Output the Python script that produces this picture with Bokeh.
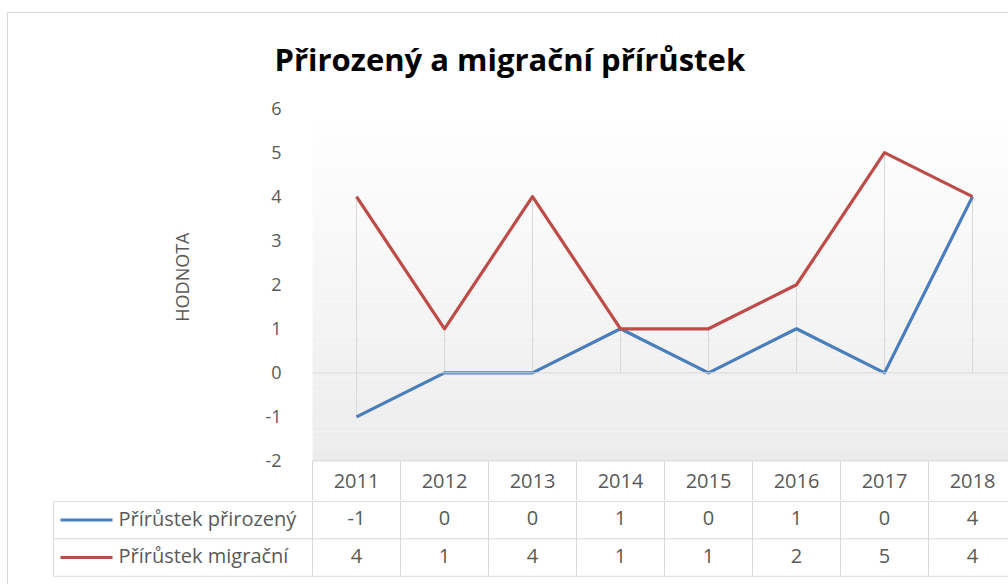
import numpy as np
from bokeh.plotting import figure
from bokeh.layouts import column
from bokeh.models import Range1d, FixedTicker, Span, Title, InlineStyleSheet
from bokeh.core.properties import value
from bokeh.embed import file_html
from bokeh.resources import INLINE

# ---- data ----
years = ["2011", "2012", "2013", "2014", "2015", "2016", "2017", "2018"]
prirozeny = [-1, 0, 0, 1, 0, 1, 0, 4]
migracni = [4, 1, 4, 1, 1, 2, 5, 4]
series_names = ["Přírůstek přirozený", "Přírůstek migrační"]
y_ticks = [-2, -1, 0, 1, 2, 3, 4, 5, 6]
title_text = "Přirozený a migrační přírůstek"
y_title = "HODNOTA"

# ---- style ----
BLUE = "#4a7ebb"
RED = "#be4b48"
GRID = "#d9d9d9"
TXT = "#595959"
FONT = "Open Sans"
PX = 88.0      # pixels per category
PY = 44.06     # pixels per value unit

idx = list(range(len(years)))
y_min, y_max = min(y_ticks), max(y_ticks)
x_lo, x_hi = idx[0] - 0.5, idx[-1] + 0.5
frame1_h = 392
hdr_bottom = y_max - frame1_h / PY
series = [prirozeny, migracni]
colors = [BLUE, RED]

p = figure(width=1008, height=500,
           x_range=Range1d(x_lo - 1 / PX, x_lo - 1 / PX + 697 / PX),
           y_range=Range1d(hdr_bottom, y_max),
           x_axis_location=None, output_backend="svg", toolbar_location=None,
           min_border_left=311, min_border_right=0, min_border_top=108,
           min_border_bottom=0, outline_line_color=None, frame_align=False,
           background_fill_color="white", border_fill_color="white")
p.xgrid.visible = False
p.ygrid.visible = False

p.title.text = title_text
p.title.text_font = FONT
p.title.text_font_size = "31px"
p.title.text_font_style = "bold"
p.title.text_color = "black"
p.title.align = "left"
p.title.offset = -37
p.title.standoff = 58

# gradient background of plot area
n = 60
edges = np.linspace(y_min, y_max, n + 1)
frac = np.linspace(1, 0, n)
shades = [int(round(255 - 19 * f)) for f in frac]
band_colors = ["#%02x%02x%02x" % (s, s, s) for s in shades]
p.quad(left=x_lo, right=x_hi, bottom=edges[:-1], top=edges[1:],
       fill_color=band_colors, line_color=None)

p.add_layout(Span(location=0, dimension="width", line_color=GRID, line_width=1))

for s in series:
    p.segment(x0=idx, y0=[0] * len(idx), x1=idx, y1=s, line_color=GRID, line_width=1)
for s, c in zip(series, colors):
    p.line(idx, s, line_color=c, line_width=3.2, line_join="round")

# header row (years)
p.segment(x0=[x_lo], y0=[y_min], x1=[x_hi], y1=[y_min], line_color=GRID, line_width=1)
vx = [i - 0.5 for i in range(len(years) + 1)]
p.segment(x0=vx, y0=[y_min] * len(vx), x1=vx, y1=[hdr_bottom] * len(vx),
          line_color=GRID, line_width=1)
p.text(x=idx, y=[(y_min + hdr_bottom) / 2] * len(idx), text=years,
       text_font=value(FONT), text_font_size="20px", text_color=TXT,
       text_align="center", text_baseline="middle")

ax = p.yaxis[0]
ax.ticker = FixedTicker(ticks=y_ticks)
ax.major_label_overrides = {t: str(t) for t in y_ticks}
ax.axis_line_color = None
ax.major_tick_line_color = None
ax.minor_tick_line_color = None
ax.major_label_standoff = 24
ax.major_label_text_font = FONT
ax.major_label_text_font_size = "18px"
ax.major_label_text_color = TXT

ytitle = Title(text=y_title, align="right", offset=124, standoff=137,
               text_font=FONT, text_font_size="18px", text_font_style="normal",
               text_color=TXT)
p.add_layout(ytitle, "left")

# ---- data table ----
leg_left = x_lo - 259 / PX
t = figure(width=1008, height=84,
           x_range=Range1d(x_lo - 260 / PX, x_lo - 260 / PX + 956 / PX),
           y_range=Range1d(2.22, -0.02),
           x_axis_location=None, y_axis_location=None,
           output_backend="svg", toolbar_location=None,
           min_border_left=52, min_border_right=0, min_border_top=0,
           min_border_bottom=0, outline_line_color=None, frame_align=False,
           background_fill_color="white", border_fill_color="white")
t.xgrid.visible = False
t.ygrid.visible = False

rows = [0, 1, 2]
t.segment(x0=[leg_left] * 3, y0=rows, x1=[x_hi] * 3, y1=rows, line_color=GRID, line_width=1)
tvx = [leg_left] + vx
t.segment(x0=tvx, y0=[0] * len(tvx), x1=tvx, y1=[2] * len(tvx), line_color=GRID, line_width=1)

for r, (name, s, c) in enumerate(zip(series_names, series, colors)):
    yc = r + 0.45
    t.segment(x0=[leg_left + 7 / PX], y0=[r + 0.5], x1=[leg_left + 59 / PX], y1=[r + 0.5],
              line_color=c, line_width=3)
    t.text(x=[leg_left + 65 / PX], y=[yc], text=[name], text_font=value(FONT),
           text_font_size="20px", text_color=TXT, text_align="left",
           text_baseline="middle")
    t.text(x=idx, y=[yc] * len(idx), text=[str(v) for v in s], text_font=value(FONT),
           text_font_size="20px", text_color=TXT, text_align="center",
           text_baseline="middle")

frame_css = InlineStyleSheet(css=(
    ":host { position: relative; }"
    ":host::after { content: ''; position: absolute; left: 7px; top: 12px; right: 0; bottom: 0;"
    " border-left: 1px solid #d9d9d9; border-top: 1px solid #d9d9d9;"
    " pointer-events: none; z-index: 5; }"))
layout = column(p, t, stylesheets=[frame_css])
open("out.html", "w").write(file_html(layout, INLINE))
